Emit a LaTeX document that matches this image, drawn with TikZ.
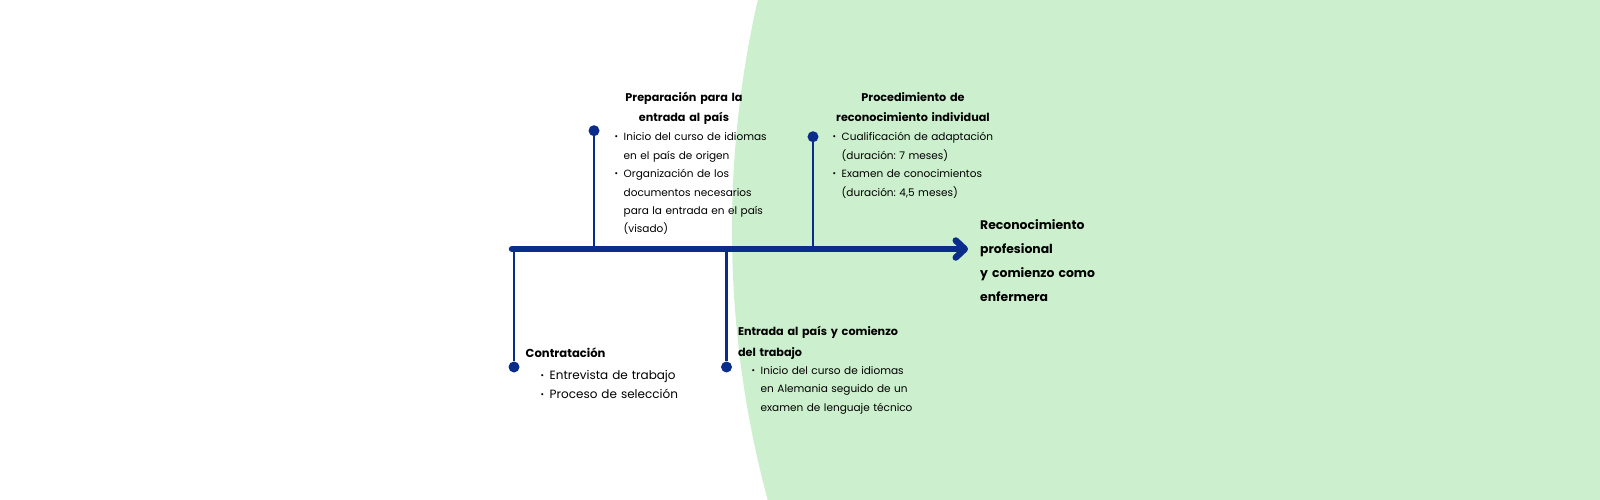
\documentclass[tikz,border=0pt]{standalone}
\usepackage{fontspec}
\setmainfont{Poppins}
\usetikzlibrary{arrows.meta}
\definecolor{navy}{RGB}{10,44,138}
\definecolor{mint}{RGB}{204,239,205}
\newcommand{\bul}{\makebox[9pt][l]{\raisebox{0.1ex}{\fontsize{8.5}{8}\selectfont\textbullet}}}
\newcommand{\ind}{\hspace*{9pt}}
\frenchspacing
\begin{document}
\begin{tikzpicture}[x=1pt,y=-1pt]
        \tikzstyle{dot}=[circle,fill=navy,inner sep=0pt,minimum size=11pt]
        \tikzstyle{tick}=[draw=navy,line width=2.3pt]
        \tikzstyle{axis}=[draw=navy,line width=6.5pt,line cap=round,-{Straight Barb[length=9pt,width=17pt,line cap=round,line join=round]}]
        \tikzstyle{title}=[font=\fontsize{11.2}{20.5}\selectfont\bfseries,inner sep=0pt,align=center,text width=180pt,anchor=base]
        \tikzstyle{items}=[font=\fontsize{10.5}{18.5}\selectfont,inner sep=0pt,align=left,text width=190pt,anchor=base west]
        \useasboundingbox (0,0) rectangle (1600,500);
        \begin{scope}
                \clip (0,0) rectangle (1600,500);
                \fill[mint] (1762,230) circle[radius=1030pt];
        \end{scope}
        \begin{scope}
                \coordinate (start) at (512,249);
                \coordinate (end) at (968,249);
                \coordinate (a1) at (514,249);
                \coordinate (a2) at (594,249);
                \coordinate (a3) at (726.5,249);
                \coordinate (a4) at (813,249);
                \node [dot] (d1) at (514,367) {};
                \node [dot] (d2) at (594,130.7) {};
                \node [dot] (d3) at (726.5,367) {};
                \node [dot] (d4) at (813,136.7) {};
                \path[tick] (d1) edge (a1);
                \path[tick] (d2) edge (a2);
                \path[tick] (d3) edge (a3);
                \path[tick] (d4) edge (a4);
                \path[axis] (start) -- (end);
        \end{scope}
        % textos de cada etapa
        \node [title] (t2) at (684,101.5) {Preparación para la\\entrada al país};
        \node [items] (i2) at (614.5,140.5) {\bul Inicio del curso de idiomas\\\ind en el país de origen\\\bul Organización de los\\\ind documentos necesarios\\\ind para la entrada en el país\\\ind (visado)};
        \node [title] (t4) at (913,101.5) {Procedimiento de\\reconocimiento individual};
        \node [items] (i4) at (832.5,140.5) {\bul Cualificación de adaptación\\\ind (duración: 7 meses)\\\bul Examen de conocimientos\\\ind (duración: 4,5 meses)};
        \node [title,font=\fontsize{12.4}{24}\selectfont\bfseries,align=left,anchor=base west] (goal) at (980,229) {Reconocimiento\\profesional\\y comienzo como\\enfermera};
        \node [title,font=\fontsize{11.6}{20}\selectfont\bfseries,align=left,anchor=base west] (t1) at (525.5,357.5) {Contratación};
        \node [items,font=\fontsize{12}{19.5}\selectfont] (i1) at (540.5,379) {\bul Entrevista de trabajo\\\bul Proceso de selección};
        \node [title,align=left,anchor=base west] (t3) at (737.8,335.6) {Entrada al país y comienzo\\del trabajo};
        \node [items] (i3) at (751.5,374.4) {\bul Inicio del curso de idiomas\\\ind en Alemania seguido de un\\\ind examen de lenguaje técnico};
\end{tikzpicture}
\end{document}
